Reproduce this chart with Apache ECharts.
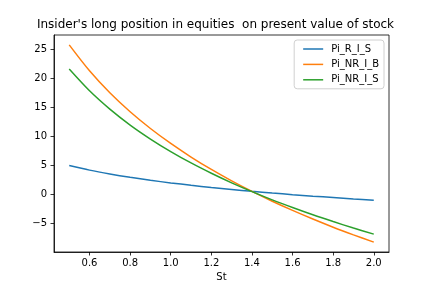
<!DOCTYPE html>
<html>
<head>
<meta charset="utf-8">
<script src="https://cdn.jsdelivr.net/npm/echarts@6/dist/echarts.min.js"></script>
<style>
html,body{margin:0;padding:0;background:#fff;}
#c{width:432px;height:288px;}
</style>
</head>
<body>
<div id="c"></div>
<script>
const S = [0.5, 0.6, 0.7, 0.8, 0.9, 1.0, 1.1, 1.2, 1.3, 1.4, 1.5, 1.6, 1.7, 1.8, 1.9, 2.0];
const piRIS = [4.95, 4.16, 3.50, 2.92, 2.41, 1.96, 1.55, 1.17, 0.83, 0.51, 0.21, -0.07, -0.33, -0.57, -0.81, -1.03];
const piNRIB = [25.77, 21.30, 17.51, 14.23, 11.34, 8.76, 6.42, 4.28, 2.31, 0.49, -1.20, -2.78, -4.27, -5.68, -7.00, -8.26];
const piNRIS = [21.60, 17.85, 14.69, 11.94, 9.53, 7.36, 5.40, 3.62, 1.97, 0.45, -0.97, -2.29, -3.54, -4.71, -5.83, -6.88];
const seriesNames = ['Pi_R_I_S', 'Pi_NR_I_B', 'Pi_NR_I_S'];
const xTicks = [0.6, 0.8, 1.0, 1.2, 1.4, 1.6, 1.8, 2.0];
const yTicks = [-5, 0, 5, 10, 15, 20, 25];
const titleText = "Insider's long position in equities  on present value of stock";
const xName = 'St';

const colors = ['#1f77b4', '#ff7f0e', '#2ca02c'];
const font = 'DejaVu Sans';
const chart = echarts.init(document.getElementById('c'), null, {renderer: 'canvas'});
const mk = (arr) => S.map((s, i) => [s, arr[i]]);
const allVals = piRIS.concat(piNRIB, piNRIS);
const yMinD = Math.min(...allVals), yMaxD = Math.max(...allVals);
const yPad = (yMaxD - yMinD) * 0.05;
const xPad = (S[S.length - 1] - S[0]) * 0.05;
const axisLineStyle = {color: '#000', width: 0.8};

chart.setOption({
  animation: false,
  color: colors,
  grid: {left: 54, right: 43, top: 35, bottom: 36, show: true, borderColor: '#000', borderWidth: 0.8, containLabel: false},
  graphic: [{
    type: 'text', x: 215.5, y: 25,
    style: {text: titleText, font: '12px "DejaVu Sans"', fill: '#000', align: 'center', verticalAlign: 'middle'}
  }],
  legend: {
    orient: 'vertical', right: 48, top: 40,
    data: seriesNames,
    itemWidth: 20, itemHeight: 10, itemGap: 5.4,
    padding: [4, 5, 4, 9],
    borderColor: '#d0d0d0', borderWidth: 1, borderRadius: 3,
    backgroundColor: 'rgba(255,255,255,0.8)',
    textStyle: {fontFamily: font, fontSize: 10, color: '#000', padding: [0, 0, 0, 3]},
    icon: 'path://M0,4.25 L20,4.25 L20,5.75 L0,5.75 Z'
  },
  xAxis: {
    type: 'value', position: 'bottom', min: S[0] - xPad, max: S[S.length - 1] + xPad,
    name: xName, nameLocation: 'middle', nameGap: 19,
    nameTextStyle: {fontFamily: font, fontSize: 10, color: '#000'},
    axisLine: {show: true, onZero: false, lineStyle: axisLineStyle},
    splitLine: {show: false},
    axisTick: {show: true, inside: false, length: 3.5, lineStyle: axisLineStyle, customValues: xTicks},
    axisLabel: {show: true, margin: 6, fontFamily: font, fontSize: 10, color: '#000', customValues: xTicks,
      formatter: v => v.toFixed(1)}
  },
  yAxis: {
    type: 'value', position: 'left', min: yMinD - yPad, max: yMaxD + yPad,
    axisLine: {show: true, onZero: false, lineStyle: axisLineStyle},
    splitLine: {show: false},
    axisTick: {show: true, inside: false, length: 3.5, lineStyle: axisLineStyle, customValues: yTicks},
    axisLabel: {show: true, margin: 7, fontFamily: font, fontSize: 10, color: '#000', customValues: yTicks,
      formatter: v => String(v).replace('-', '\u2212')}
  },
  series: [
    {name: seriesNames[0], type: 'line', data: mk(piRIS), symbol: 'none', smooth: 0.3, lineStyle: {width: 1.5, color: colors[0]}},
    {name: seriesNames[1], type: 'line', data: mk(piNRIB), symbol: 'none', smooth: 0.3, lineStyle: {width: 1.5, color: colors[1]}},
    {name: seriesNames[2], type: 'line', data: mk(piNRIS), symbol: 'none', smooth: 0.3, lineStyle: {width: 1.5, color: colors[2]}}
  ]
});
</script>
</body>
</html>
